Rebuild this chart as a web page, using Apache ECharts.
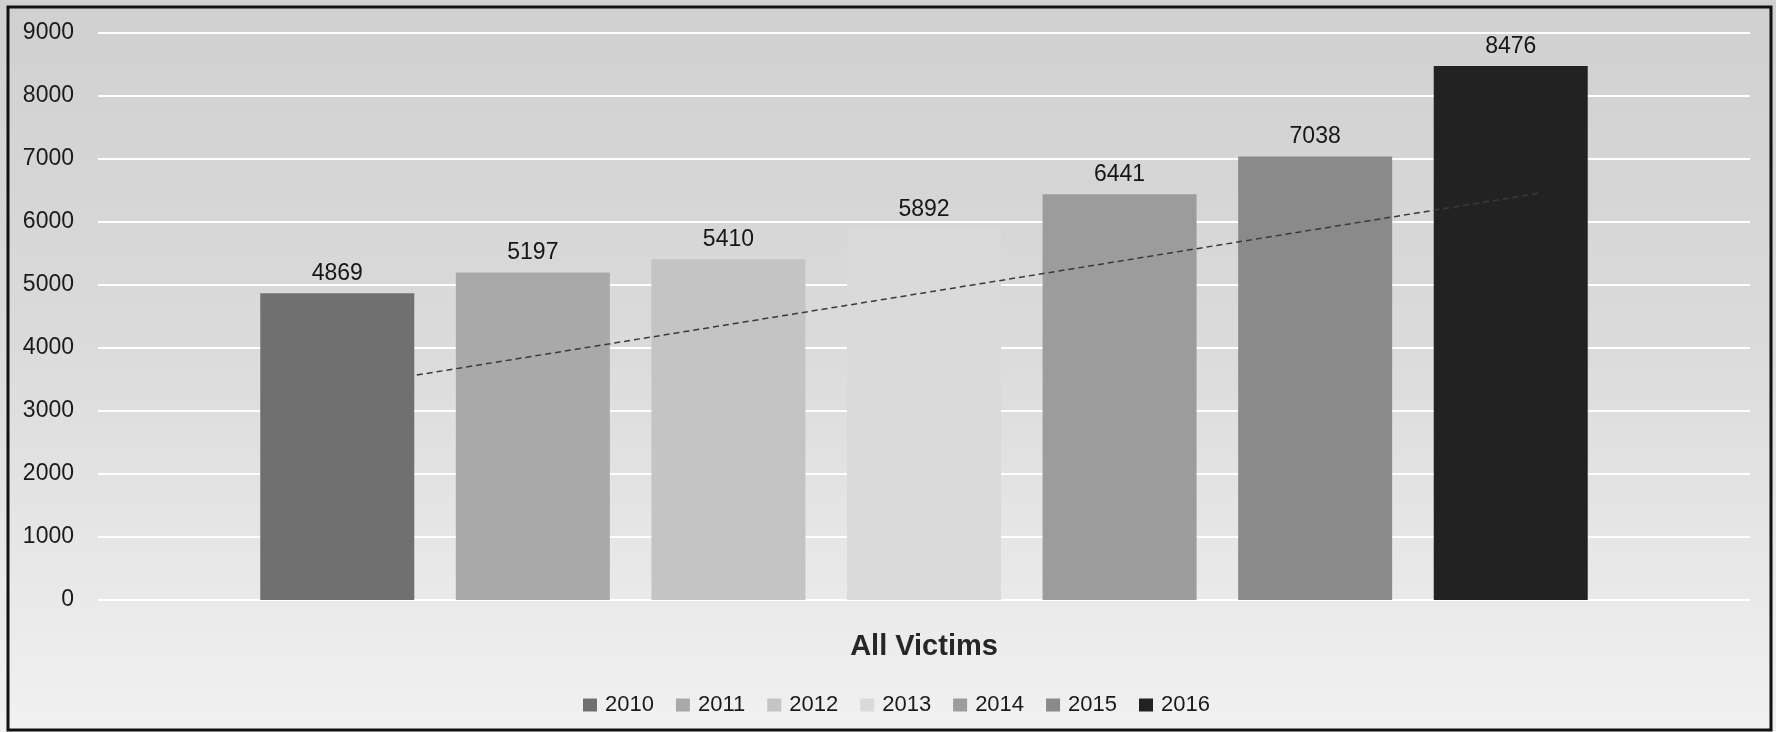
<!DOCTYPE html>
<html>
<head>
<meta charset="utf-8">
<script src="https://cdn.jsdelivr.net/npm/echarts@6/dist/echarts.min.js"></script>
<style>
    html, body { margin: 0; padding: 0; }
    #chart { width: 1776px; height: 732px; }
</style>
</head>
<body>
<div id="chart"></div>
<script>
// data
var categories = ['All Victims'];
var years = ['2010', '2011', '2012', '2013', '2014', '2015', '2016'];
var victims = [4869, 5197, 5410, 5892, 6441, 7038, 8476];
var yearColors = ['#707070', '#a9a9a9', '#c4c4c4', '#dadada', '#9c9c9c', '#8a8a8a', '#222222'];
var yTicks = [0, 1000, 2000, 3000, 4000, 5000, 6000, 7000, 8000, 9000];
// dashed trend line: position across the plot (percent) and value
var trendX = [19.3, 87.3];
var trendY = [3571, 6460];

var chart = echarts.init(document.getElementById('chart'));

var seriesList = [];
years.forEach(function (y, i) {
    seriesList.push({
        name: y,
        type: 'bar',
        xAxisIndex: 0,
        barWidth: 154,
        barGap: '27%',
        itemStyle: { color: yearColors[i] },
        label: {
            show: true,
            position: 'top',
            distance: 8,
            color: '#161616',
            fontSize: 23,
            fontFamily: 'Liberation Sans'
        },
        data: [victims[i]]
    });
});
seriesList.push({
    name: 'trend',
    type: 'line',
    xAxisIndex: 1,
    symbol: 'none',
    silent: true,
    z: 5,
    lineStyle: { color: '#3a3a3a', width: 1.5, type: [6, 4] },
    data: trendX.map(function (x, i) { return [x, trendY[i]]; })
});

var option = {
    animation: false,
    backgroundColor: {
        type: 'linear', x: 0, y: 0, x2: 0, y2: 1,
        colorStops: [
            { offset: 0, color: '#d0d0d0' },
            { offset: 0.45, color: '#dadada' },
            { offset: 1, color: '#f1f1f1' }
        ]
    },
    grid: { left: 98, right: 26, top: 33, bottom: 132 },
    legend: {
        data: years,
        left: 578,
        top: 689,
        icon: 'rect',
        itemWidth: 14,
        itemHeight: 13,
        itemGap: 22,
        textStyle: { color: '#1a1a1a', fontSize: 22, fontFamily: 'Liberation Sans', padding: [0, 0, 0, 3] }
    },
    xAxis: [
        {
            type: 'category',
            data: categories,
            axisLine: { show: false },
            axisTick: { show: false },
            axisLabel: {
                margin: 32,
                color: '#262626',
                fontSize: 29,
                fontWeight: 'bold',
                fontFamily: 'Liberation Sans'
            }
        },
        { type: 'value', min: 0, max: 100, show: false }
    ],
    yAxis: {
        type: 'value',
        min: yTicks[0],
        max: yTicks[yTicks.length - 1],
        interval: 1000,
        axisLine: { show: false },
        axisTick: { show: false },
        axisLabel: {
            margin: 24,
            color: '#1a1a1a',
            fontSize: 23,
            fontFamily: 'Liberation Sans',
            formatter: function (v) { return String(v); }
        },
        splitLine: { lineStyle: { color: '#ffffff', width: 2 } }
    },
    graphic: [{
        type: 'rect',
        shape: { x: 8, y: 7, width: 1763, height: 723 },
        style: { fill: 'none', stroke: '#111111', lineWidth: 3 },
        silent: true
    }],
    series: seriesList
};
chart.setOption(option);
</script>
</body>
</html>
